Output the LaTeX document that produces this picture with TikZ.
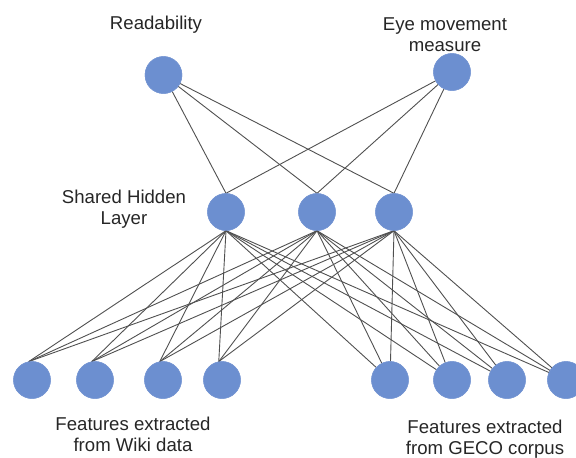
\documentclass[tikz,border=0pt]{standalone}
\usepackage{fontspec}
\setmainfont{Liberation Sans}
\begin{document}
\begin{tikzpicture}[x=1pt,y=-1pt,
  neuron/.style={circle,fill=nblue,draw=nblue!90!white,line width=0.4pt,minimum size=37pt,inner sep=0pt},
  conn/.style={draw=edgegray,line width=0.9pt},
  lbl/.style={align=center,font=\fontsize{18.6}{21}\selectfont,text=black!85,inner sep=0pt}]
\definecolor{nblue}{RGB}{108,143,208}
\definecolor{edgegray}{RGB}{80,80,80}
\useasboundingbox (0,0) rectangle (576,458);
% top nodes
\node[neuron] (r) at (163.5,75) {};
\node[neuron] (e) at (452,72) {};
% hidden
\node[neuron] (h1) at (226,212) {};
\node[neuron] (h2) at (317,212) {};
\node[neuron] (h3) at (394,212) {};
% bottom
\node[neuron] (b1) at (32,380) {};
\node[neuron] (b2) at (95,380) {};
\node[neuron] (b3) at (163,380) {};
\node[neuron] (b4) at (222,380) {};
\node[neuron] (b5) at (390,380) {};
\node[neuron] (b6) at (452,380) {};
\node[neuron] (b7) at (507,380) {};
\node[neuron] (b8) at (566,380) {};
% labels
\node[lbl] (tr) at (156,25) {Readability};
\node[lbl] (te) at (445,35) {Eye movement\\measure};
\node[lbl] (th) at (124,209) {Shared Hidden\\Layer};
\node[lbl] (tl) at (133,434) {Features extracted\\from Wiki data};
\node[lbl] (tg) at (485,439) {Features extracted\\from GECO corpus};
% connections
\foreach \t in {r,e}
  \foreach \h in {h1,h2,h3}
    \draw[conn] (\t) -- (\h.north);
\foreach \h in {h1,h2,h3}{
  \foreach \b in {b1,b2,b3,b4}
    \draw[conn] (\h.south) -- (\b.100);
  \foreach \b in {b5,b6,b7,b8}
    \draw[conn] (\h.south) -- (\b);
}
% redraw nodes on top of the connectors
\foreach \n/\x/\y in {r/163.5/75,e/452/72,h1/226/212,h2/317/212,h3/394/212,b1/32/380,b2/95/380,b3/163/380,b4/222/380,b5/390/380,b6/452/380,b7/507/380,b8/566/380}
  \node[neuron] (\n top) at (\x,\y) {};
\end{tikzpicture}
\end{document}
